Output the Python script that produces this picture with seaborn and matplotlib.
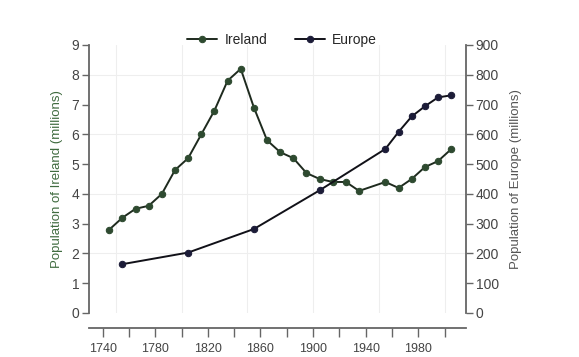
import numpy as np
import matplotlib
matplotlib.use('Agg')
import matplotlib.pyplot as plt
import seaborn as sns

# datos
ireland_years = [1745, 1755, 1765, 1775, 1785, 1795, 1805, 1815, 1825, 1835, 1845,
                 1855, 1865, 1875, 1885, 1895, 1905, 1915, 1925, 1935,
                 1955, 1965, 1975, 1985, 1995, 2005]
ireland_pop = [2.8, 3.2, 3.5, 3.6, 4.0, 4.8, 5.2, 6.0, 6.8, 7.8, 8.2,
               6.9, 5.8, 5.4, 5.2, 4.7, 4.5, 4.4, 4.4, 4.1,
               4.4, 4.2, 4.5, 4.9, 5.1, 5.5]
europe_years = [1755, 1805, 1855, 1905, 1955, 1965, 1975, 1985, 1995, 2005]
europe_pop = [164, 203, 282, 412, 551, 608, 660, 694, 724, 731]

sns.set_style('white')
plt.rcParams['font.family'] = ['Liberation Sans', 'DejaVu Sans']

fig = plt.figure(figsize=(5.79, 3.57), dpi=100)
ax = fig.add_axes([89 / 579, 44 / 357, (466 - 89) / 579, (313 - 45) / 357])
ax2 = ax.twinx()

grid_col = '#eeeeee'
for yr in [1750, 1800, 1850, 1900, 1950, 2000]:
    ax.axvline(yr, color=grid_col, lw=0.8, zorder=0)
for v in [2, 4, 6, 8]:
    ax.axhline(v, color=grid_col, lw=0.8, zorder=0)

sns.lineplot(x=ireland_years, y=ireland_pop, ax=ax, color='#1e2a1e', lw=1.4,
             marker='o', markersize=4.6, markerfacecolor='#2e4a30',
             markeredgecolor='#2e4a30', label='Ireland', legend=False)
sns.lineplot(x=europe_years, y=europe_pop, ax=ax2, color='#111118', lw=1.4,
             marker='o', markersize=4.6, markerfacecolor='#1c1c38',
             markeredgecolor='#1c1c38', label='Europe', legend=False)

ax.set_xlim(1729.6, 2016.3)
ax.set_ylim(0, 9)
ax2.set_ylim(0, 900)
ax.set_yticks(range(0, 10))
ax2.set_yticks(range(0, 1000, 100))
ax.set_xticks(range(1740, 2001, 20))
ax.set_xticklabels([str(y) if (y - 1740) % 40 == 0 else '' for y in range(1740, 2001, 20)])

spine_col = '#666666'
for a in (ax, ax2):
    a.spines['top'].set_visible(False)
    for s in ('left', 'right', 'bottom'):
        a.spines[s].set_color(spine_col)
        a.spines[s].set_linewidth(1.3)
ax.spines['right'].set_visible(False)
ax2.spines['left'].set_visible(False)
ax2.spines['bottom'].set_visible(False)
ax.spines['bottom'].set_position(('outward', 11))

ax.tick_params(axis='y', left=True, length=5, width=1, color=spine_col,
               labelsize=10, labelcolor='#444444', pad=2)
ax2.tick_params(axis='y', right=True, length=5, width=1, color=spine_col,
                labelsize=10, labelcolor='#444444', pad=2)
ax.tick_params(axis='x', bottom=True, length=6.5, width=1, color=spine_col,
               labelsize=9, labelcolor='#444444', pad=4)

ax.set_ylabel('Population of Ireland (millions)', color='#3f6b3f', fontsize=9.5, labelpad=6)
ax2.set_ylabel('Population of Europe (millions)', color='#555555', fontsize=9.5, labelpad=8)
ax.set_xlabel('')

h1, l1 = ax.get_legend_handles_labels()
h2, l2 = ax2.get_legend_handles_labels()
fig.legend(h1 + h2, l1 + l2, loc='center', bbox_to_anchor=(282 / 579, 1 - 40 / 357),
           ncol=2, frameon=False, fontsize=10, handlelength=2.2, columnspacing=2.0,
           handletextpad=0.5)

plt.savefig('out.png', dpi=100)
